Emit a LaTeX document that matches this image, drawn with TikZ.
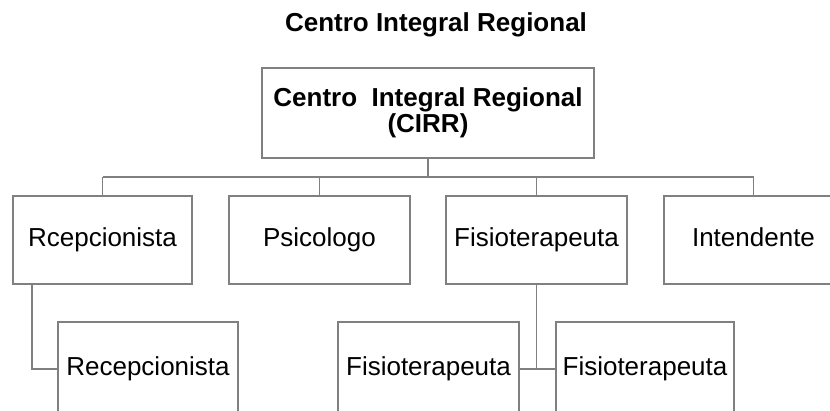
\documentclass[tikz,border=0pt]{standalone}
\usepackage{fontspec}
\setmainfont{Liberation Sans}
\definecolor{linegray}{RGB}{128,128,128}
\begin{document}
\begin{tikzpicture}[x=1pt,y=-1pt,
  orgbox/.style={draw=linegray, line width=1.4pt, inner sep=0pt,
    font=\fontsize{26}{26}\selectfont, text height=19pt, text depth=5.5pt},
  lvlone/.style={orgbox, minimum height=88pt},
  lvltwo/.style={orgbox, minimum height=94pt},
  conn/.style={draw=linegray, line width=1.8pt}]
\useasboundingbox (0,0) rectangle (830,410);
\clip (0,0) rectangle (830,410);
\node[anchor=base, font=\fontsize{26}{26}\selectfont\bfseries] (title) at (436,31) {Centro Integral Regional};
\node[orgbox, minimum width=332pt, minimum height=90pt, align=center, text height=, text depth=,
  font=\fontsize{26}{26}\selectfont\bfseries] (top) at (428,113) {Centro\ \ Integral Regional\\(CIRR)};
\node[lvlone, minimum width=179pt] (rc) at (102.5,240) {Rcepcionista};
\node[lvlone, minimum width=181pt] (ps) at (319.5,240) {Psicologo};
\node[lvlone, minimum width=181pt] (fi) at (536.5,240) {Fisioterapeuta};
\node[lvlone, minimum width=179pt] (in) at (753.5,240) {Intendente};
\node[lvltwo, minimum width=180pt] (re) at (148,369) {Recepcionista};
\node[lvltwo, minimum width=181pt] (fa) at (428.5,369) {Fisioterapeuta};
\node[lvltwo, minimum width=178pt] (fb) at (645,369) {Fisioterapeuta};
\coordinate (bus) at (428,177);
\coordinate (rcdrop) at (32,284);
\draw[conn] (top.south) -- (bus);
\draw[conn] (rc.north |- bus) -- (in.north |- bus);
\draw[conn] (rc.north |- bus) -- (rc.north);
\draw[conn] (ps.north |- bus) -- (ps.north);
\draw[conn] (fi.north |- bus) -- (fi.north);
\draw[conn] (in.north |- bus) -- (in.north);
\draw[conn] (rcdrop) |- (re.west);
\draw[conn] (fi.south) -- (fi.south |- fa.east);
\draw[conn] (fa.east) -- (fb.west);
\end{tikzpicture}
\end{document}
